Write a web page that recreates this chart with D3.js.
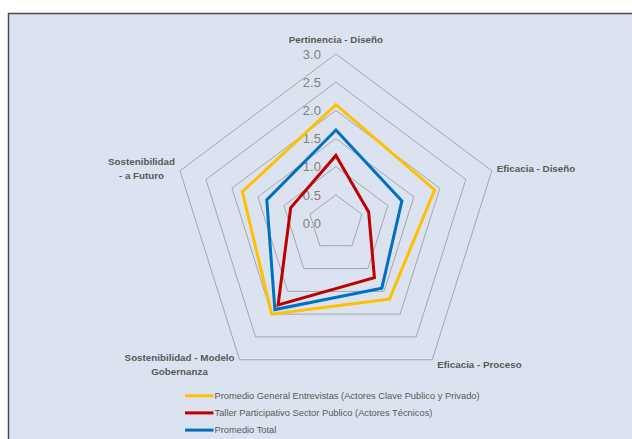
<!DOCTYPE html>
<html>
<head>
<meta charset="utf-8">
<script src="https://cdn.jsdelivr.net/npm/d3@7"></script>
<style>
  html, body { margin: 0; padding: 0; background: #ffffff; }
  svg { display: block; }
</style>
</head>
<body>
<svg id="chart" width="632" height="439"></svg>
<script>
// ---- data ----
const categories = [
  "Pertinencia - Diseño",
  "Eficacia - Diseño",
  "Eficacia - Proceso",
  "Sostenibilidad - Modelo\nGobernanza",
  "Sostenibilidad\n- a Futuro"
];
const seriesNames = [
  "Promedio General Entrevistas (Actores Clave Publico y Privado)",
  "Taller Participativo Sector Publico (Actores Técnicos)",
  "Promedio Total"
];
const entrevistas = [2.1, 1.9, 1.67, 2.0, 1.8];
const taller      = [1.2, 0.63, 1.2, 1.8, 0.87];
const total       = [1.65, 1.27, 1.43, 1.9, 1.33];
const tickValues  = [0, 0.5, 1.0, 1.5, 2.0, 2.5, 3.0];
const seriesColors = ["#ffc000", "#c00000", "#0070c0"];

// ---- layout ----
const svg = d3.select("#chart");
const W = 632, H = 439;
const cx = 335.9, cy = 223;
const xStretch = 0.97;

svg.append("rect")
  .attr("x", 8.5).attr("y", 13.5)
  .attr("width", W + 10).attr("height", H + 10)
  .attr("fill", "#dbe3f1")
  .attr("stroke", "#4a4a4a").attr("stroke-width", 1.5);

const r = d3.scaleLinear().domain([0, 3]).range([0, 169]);
const angle = d3.scalePoint().domain(d3.range(categories.length))
  .range([0, 2 * Math.PI * (categories.length - 1) / categories.length]);

function pt(i, v) {
  const a = angle(i);
  return [cx + Math.sin(a) * r(v) * xStretch, cy - Math.cos(a) * r(v)];
}

const g = svg.append("g");

// grid rings
const line = d3.line().curve(d3.curveLinearClosed);
g.selectAll("path.ring")
  .data(tickValues.filter(t => t > 0))
  .join("path")
  .attr("class", "ring")
  .attr("d", t => line(categories.map((c, i) => pt(i, t))))
  .attr("fill", "none")
  .attr("stroke", "#a6a6a6")
  .attr("stroke-width", 1);

// tick labels
g.selectAll("text.tick")
  .data(tickValues)
  .join("text")
  .attr("class", "tick")
  .attr("x", cx - 15)
  .attr("y", t => cy - r(t))
  .attr("dy", "0.36em")
  .attr("text-anchor", "end")
  .attr("font-family", "Liberation Sans, Arial, sans-serif")
  .attr("font-size", 13)
  .attr("fill", "#7f7f7f")
  .text(t => d3.format(".1f")(t));

// series
const seriesData = [entrevistas, taller, total];
g.selectAll("path.series")
  .data(seriesData)
  .join("path")
  .attr("class", "series")
  .attr("d", vals => line(vals.map((v, i) => pt(i, v))))
  .attr("fill", "none")
  .attr("stroke", (d, i) => seriesColors[i])
  .attr("stroke-width", 3)
  .attr("stroke-linejoin", "miter");

// category labels
const labelFont = "Liberation Sans, Arial, sans-serif";
const lh = 14.2;
categories.forEach((c, i) => {
  const a = angle(i);
  const [vx, vy] = pt(i, 3);
  const lines = c.split("\n");
  const t = g.append("text")
    .attr("font-family", labelFont)
    .attr("font-size", 9.8)
    .attr("font-weight", "bold")
    .attr("fill", "#595959")
    .attr("text-anchor", "middle")
    .attr("dominant-baseline", "middle");
  lines.forEach((ln, k) => {
    t.append("tspan").attr("x", 0).attr("dy", k === 0 ? 0 : lh)
      .attr("dominant-baseline", "middle").text(ln);
  });
  const bw = t.node().getBBox().width;
  const blockH = (lines.length - 1) * lh;
  const s = Math.sin(a);
  let x, yc;
  if (Math.abs(s) < 0.1) {
    x = vx; yc = vy - 14;
  } else {
    x = vx + Math.sign(s) * (5 + bw / 2);
    yc = vy - 6.8 * Math.cos(a);
  }
  t.attr("transform", `translate(${x},${yc - blockH / 2})`);
});

// legend
const legend = svg.append("g");
const legY0 = 395.7, legDy = 17.2;
seriesNames.forEach((n, i) => {
  const y = legY0 + i * legDy;
  legend.append("line")
    .attr("x1", 185).attr("x2", 213.5)
    .attr("y1", y).attr("y2", y)
    .attr("stroke", seriesColors[i]).attr("stroke-width", 3);
  legend.append("text")
    .attr("x", 214.5).attr("y", y)
    .attr("dy", "0.35em")
    .attr("font-family", labelFont)
    .attr("font-size", 9.3)
    .attr("fill", "#595959")
    .text(n);
});
</script>
</body>
</html>
